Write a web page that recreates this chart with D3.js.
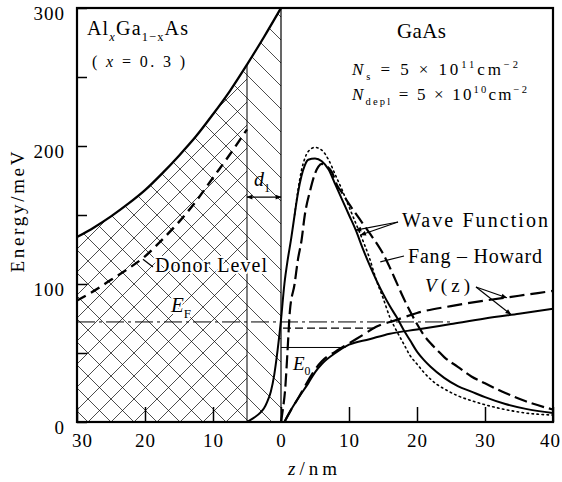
<!DOCTYPE html>
<html>
<head>
<meta charset="utf-8">
<script src="https://cdn.jsdelivr.net/npm/d3@7"></script>
<style>
  body { margin: 0; background: #fff; }
</style>
</head>
<body>
<div id="chart"></div>
<script>
// ---- data (z in nm, energy in meV) ----
// AlGaAs conduction band edge (barrier side, z < 0)
const zBand = [-30, -27.5, -25, -22.5, -20, -17.5, -15, -12.5, -10, -7.5, -5, -2.5, 0];
const eBand = [134, 141, 149, 158, 168, 180, 193, 207, 223, 240, 259, 279, 300];
// donor level (dashed, in the barrier)
const zDonor = [-30, -27.5, -25, -22.5, -20, -17.5, -15, -12.5, -10, -7.5, -5];
const eDonor = [88, 95, 103, 111, 120, 132, 145, 160, 177, 194, 212];
// wave function (solid)
const zWave = [-5, -4, -3, -2.5, -2, -1.5, -1, -0.5, 0, 0.5, 1, 1.5, 2, 2.5, 3, 3.5, 4, 5, 6, 7, 8, 9, 10, 11, 12, 13, 14, 15, 16, 17, 18, 19, 20, 21, 22, 24, 26, 28, 30, 33, 36, 40];
const eWave = [0, 3, 7, 10, 15, 22, 34, 52, 74, 100, 118, 133, 150, 166, 178, 186, 190, 191, 189, 183, 172, 161, 150, 139, 126, 114, 103, 93, 84, 76, 67, 59, 51, 45, 40, 32, 26, 22, 18, 13, 9.5, 6.5];
// Fang-Howard wave function (dashed)
const zFang = [0, 0.3, 0.6, 1, 1.3, 2, 2.5, 3, 3.5, 4.3, 5, 5.5, 6, 6.5, 7.5, 8.2, 9, 10, 11, 12, 13, 14, 15, 16, 17, 18, 19, 20, 21, 22, 23, 24, 26, 28, 30, 33, 36, 40];
const eFang = [0, 10, 23, 55, 80, 100, 118, 131, 150, 168, 180, 185, 187, 186, 181, 172, 166, 158, 151, 144, 137, 130, 122, 112, 101, 90, 80, 71, 63, 57, 52, 47, 40, 33, 28, 21, 15, 9];
// dotted wave function
const zDot = [2, 2.5, 3, 3.5, 4, 5, 6, 7, 8, 9, 10, 11, 12, 13, 14, 15, 16, 17, 18, 19, 20, 21, 22, 23, 24, 26, 28, 30, 33, 36, 40];
const eDot = [150, 168, 182, 191, 196, 199, 197, 190, 179, 168, 156, 144, 132, 119, 103, 90, 76, 66, 57, 48, 42, 36, 31, 27, 24, 19, 15.5, 12.5, 9, 6.5, 5];
// potential V(z): self-consistent (solid) and Fang-Howard (dashed)
const zV = [0.5, 1.5, 2.5, 4, 5, 6, 8, 10, 13, 16, 20, 25, 30, 35, 40];
const eV = [0, 9, 17, 28, 36, 42, 50, 56, 60, 64, 67, 71, 75, 78.5, 82];
const zVfh = [0.5, 1.5, 2.5, 4, 5, 6, 8, 10, 12, 14, 17, 20, 25, 30, 35, 40];
const eVfh = [0, 9, 17, 30, 38, 44, 51, 57, 63, 69, 74, 79, 84, 88, 91.5, 95];
// energy levels
const levelEF = 72.5;   // Fermi level
const levelE0 = 54;     // ground subband
const levelE0fh = 68;   // Fang-Howard ground subband
const dLevel = 163;     // height of the d1 arrow
// ticks
const xTicks = [-30, -20, -10, 0, 10, 20, 30, 40];
const yTicks = [0, 50, 100, 150, 200, 250, 300];
const yLabels = [0, 100, 200, 300];

const W = 562, H = 482;
const FONT = '"Liberation Serif"';
const x = d3.scaleLinear().domain([-30, 40]).range([77, 553]);
const y = d3.scaleLinear().domain([0, 300]).range([422, 8]);

const svg = d3.select("#chart").append("svg")
  .attr("width", W).attr("height", H)
  .attr("viewBox", [0, 0, W, H])
  .style("display", "block");

const defs = svg.append("defs");

// hatch patterns
const hp = 23;
defs.append("pattern").attr("id", "cross")
  .attr("patternUnits", "userSpaceOnUse")
  .attr("x", x(-30) + 11).attr("y", y(0))
  .attr("width", hp).attr("height", hp)
  .append("path")
  .attr("d", `M0,0L${hp},${hp}M${hp},0L0,${hp}`)
  .attr("stroke", "#000").attr("stroke-width", 0.7).attr("fill", "none");
defs.append("pattern").attr("id", "single")
  .attr("patternUnits", "userSpaceOnUse")
  .attr("x", x(-30) + 11).attr("y", y(0))
  .attr("width", hp).attr("height", hp)
  .append("path")
  .attr("d", `M0,0L${hp},${hp}M-2,${hp - 2}L2,${hp + 2}M${hp - 2},-2L${hp + 2},2`)
  .attr("stroke", "#000").attr("stroke-width", 0.7).attr("fill", "none");

defs.append("clipPath").attr("id", "clipCross").append("rect")
  .attr("x", x(-30)).attr("y", 0).attr("width", x(-5) - x(-30)).attr("height", H);
defs.append("clipPath").attr("id", "clipSingle").append("rect")
  .attr("x", x(-5)).attr("y", 0).attr("width", x(0) - x(-5)).attr("height", H);

const mk = defs.append("marker").attr("id", "arr")
  .attr("viewBox", "0 0 10 10").attr("refX", 9).attr("refY", 5)
  .attr("markerWidth", 7).attr("markerHeight", 6)
  .attr("orient", "auto-start-reverse").attr("markerUnits", "userSpaceOnUse");
mk.append("path").attr("d", "M0,1L10,5L0,9Z").attr("fill", "#000");

const pts = (zs, es) => zs.map((z, i) => [z, es[i]]);
const line = d3.line().x(d => x(d[0])).y(d => y(d[1])).curve(d3.curveMonotoneX);
const area = d3.area().x(d => x(d[0])).y0(y(0)).y1(d => y(d[1])).curve(d3.curveMonotoneX);

const band = pts(zBand, eBand);

// hatched barrier
svg.append("path").datum(band).attr("d", area)
  .attr("fill", "url(#cross)").attr("clip-path", "url(#clipCross)");
svg.append("path").datum(band).attr("d", area)
  .attr("fill", "url(#single)").attr("clip-path", "url(#clipSingle)");

// vertical lines at z = -5 and z = 0
const bandAt = z => eBand[zBand.indexOf(z)];
svg.append("line")
  .attr("x1", x(-5)).attr("x2", x(-5)).attr("y1", y(0)).attr("y2", y(bandAt(-5)))
  .attr("stroke", "#000").attr("stroke-width", 1);
svg.append("line")
  .attr("x1", x(0)).attr("x2", x(0)).attr("y1", y(0)).attr("y2", y(300))
  .attr("stroke", "#000").attr("stroke-width", 1.2);

// energy levels
svg.append("line")
  .attr("x1", x(-30)).attr("x2", x(25)).attr("y1", y(levelEF)).attr("y2", y(levelEF))
  .attr("stroke", "#000").attr("stroke-width", 1).attr("stroke-dasharray", "18,4,3,4");
svg.append("line")
  .attr("x1", x(0.3)).attr("x2", x(14)).attr("y1", y(levelE0fh)).attr("y2", y(levelE0fh))
  .attr("stroke", "#000").attr("stroke-width", 1.3).attr("stroke-dasharray", "8,4");
svg.append("line")
  .attr("x1", x(0)).attr("x2", x(9.5)).attr("y1", y(levelE0)).attr("y2", y(levelE0))
  .attr("stroke", "#000").attr("stroke-width", 1);

// curves
const curve = (data, w, dash) => {
  const p = svg.append("path").datum(data).attr("d", line)
    .attr("fill", "none").attr("stroke", "#000").attr("stroke-width", w);
  if (dash) p.attr("stroke-dasharray", dash);
  return p;
};
curve(band, 2.3);
curve(pts(zDonor, eDonor), 2.4, "10,6");
curve(pts(zDot, eDot), 1.6, "1.5,3.5").attr("stroke-linecap", "round");
curve(pts(zWave, eWave), 2);
curve(pts(zFang, eFang), 2.2, "13,5");
curve(pts(zV, eV), 2);
curve(pts(zVfh, eVfh), 2.2, "15,6");

// d1 dimension arrow
svg.append("line")
  .attr("x1", x(-5)).attr("x2", x(0)).attr("y1", y(dLevel)).attr("y2", y(dLevel))
  .attr("stroke", "#000").attr("stroke-width", 1.2)
  .attr("marker-start", "url(#arr)").attr("marker-end", "url(#arr)");

// leader lines
const leader = (x1, y1, z2, e2, arrow) => {
  const l = svg.append("line").attr("x1", x1).attr("y1", y1)
    .attr("x2", x(z2)).attr("y2", y(e2))
    .attr("stroke", "#000").attr("stroke-width", 1.2);
  if (arrow) l.attr("marker-end", "url(#arr)");
};
leader(398, 222, 11, 139, true);
leader(398, 222, 11.7, 135.5, true);
leader(404, 256, 14.6, 116, false);
leader(476, 287, 33.2, 90, true);
leader(476, 287, 33.8, 78, true);
leader(153, 267, -20.3, 118, false);

// rich text helper
function rich(xp, yp, size, parts, len, halo) {
  const t = svg.append("text").attr("x", xp).attr("y", yp)
    .style("font-family", FONT)
    .attr("font-size", size).attr("fill", "#000");
  if (len) t.attr("textLength", len).attr("lengthAdjust", "spacing");
  if (halo) t.attr("stroke", "#fff").attr("stroke-width", 4)
    .attr("paint-order", "stroke").attr("stroke-linejoin", "round");
  let shift = 0;
  parts.forEach(p => {
    const s = t.append("tspan").text(p.t);
    if (p.i) s.attr("font-style", "italic");
    let target = 0;
    if (p.sub) { target = size * 0.28; s.attr("font-size", size * 0.62); }
    if (p.sup) { target = -size * 0.4; s.attr("font-size", size * 0.62); }
    if (target !== shift) { s.attr("dy", target - shift); shift = target; }
  });
  return t;
}

rich(87, 35, 20, [{t: "Al"}, {t: "x", i: 1, sub: 1}, {t: "Ga"}, {t: "1−x", sub: 1}, {t: "As"}], 101);
rich(92, 67, 16, [{t: "( "}, {t: "x", i: 1}, {t: " = 0. 3 )"}], 93);
rich(397, 38, 21, [{t: "GaAs"}], 49);
rich(352, 75, 17, [{t: "N", i: 1}, {t: "s", sub: 1}, {t: " = 5 × 10"}, {t: "11", sup: 1}, {t: "cm"}, {t: "−2", sup: 1}], 166);
rich(352, 100, 17, [{t: "N", i: 1}, {t: "depl", sub: 1}, {t: " = 5 × 10"}, {t: "10", sup: 1}, {t: "cm"}, {t: "−2", sup: 1}], 175);
rich(254, 186, 20, [{t: "d", i: 1}, {t: "1", sub: 1}]);
rich(155, 272, 20, [{t: "Donor Level"}], 112, true);
rich(171, 312, 21, [{t: "E", i: 1}, {t: "F", sub: 1}], null, true);
rich(293, 370, 19, [{t: "E", i: 1}, {t: "0", sub: 1}]);
rich(402, 227, 20, [{t: "Wave Function"}], 146);
rich(408, 263, 20, [{t: "Fang – Howard"}], 134);
rich(425, 292, 19, [{t: "V", i: 1}, {t: "(z)"}], 45);
rich(288, 475, 19, [{t: "z", i: 1}, {t: "/nm"}], 49);

svg.append("text")
  .attr("transform", "translate(24,212) rotate(-90)")
  .attr("text-anchor", "middle").attr("font-size", 19)
  .style("font-family", FONT)
  .attr("textLength", 121).attr("lengthAdjust", "spacing")
  .text("Energy/meV");

// axes
const gx = svg.append("g").attr("transform", `translate(0,${y(0)})`)
  .call(d3.axisBottom(x).tickValues(xTicks).tickSize(-15).tickPadding(12)
    .tickFormat(d => Math.abs(d)));
const gy = svg.append("g").attr("transform", `translate(${x(-30)},0)`)
  .call(d3.axisLeft(y).tickValues(yTicks).tickSize(-10).tickPadding(12)
    .tickFormat(d => yLabels.includes(d) ? d : ""));
[gx, gy].forEach(g => {
  g.select(".domain").remove();
  g.selectAll(".tick line").attr("stroke", "#000").attr("stroke-width", 1.5);
  g.selectAll(".tick text").attr("fill", "#000")
    .style("font-family", FONT).style("font-size", "19px")
    .attr("letter-spacing", 1);
});
gx.selectAll(".tick text").attr("dx", d => d === -30 ? 5 : d === 40 ? -3 : 0);
gy.selectAll(".tick text").attr("dy", "0.62em");

// frame
svg.append("rect")
  .attr("x", x(-30)).attr("y", y(300))
  .attr("width", x(40) - x(-30)).attr("height", y(0) - y(300))
  .attr("fill", "none").attr("stroke", "#000").attr("stroke-width", 2.2);
</script>
</body>
</html>
